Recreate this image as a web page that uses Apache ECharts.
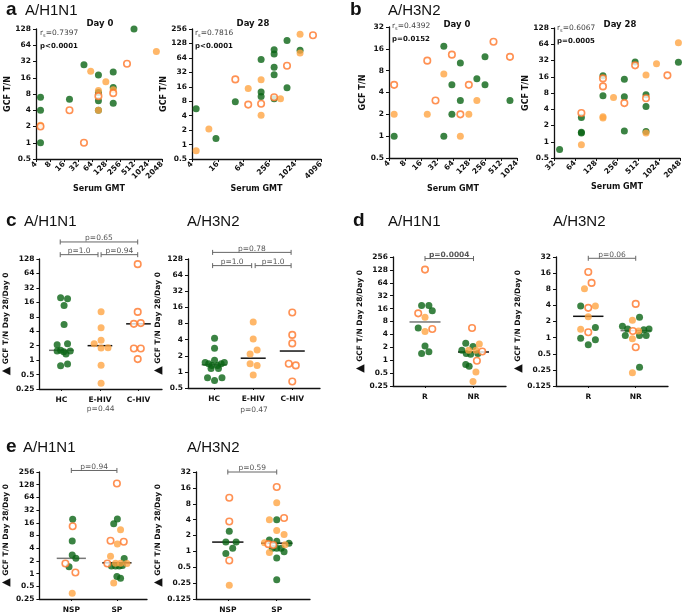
<!DOCTYPE html>
<html><head><meta charset="utf-8">
<script src="https://cdn.jsdelivr.net/npm/echarts@6/dist/echarts.min.js"></script>
<style>html,body{margin:0;padding:0;background:#fff}#c{width:685px;height:614px}</style>
</head><body><div id="c"></div><script>
// ---------- DATA ----------
// Panel a, A/H1N1, Day 0 (x = serum GMT, y = GCF T/N)
const a0GreenX=[512,5,5,5,21,43,88,88,88,88,183,183,183];
const a0GreenY=[128,7,4,1,6.4,28,18,8.5,6,4,20.5,10.5,5.4];
const a0OrangeX=[1550,60,127,5,88,183,88];
const a0OrangeY=[49,21,13.5,2.1,9.3,9.6,4];
const a0OpenX=[362,21,43,88,183,5];
const a0OpenY=[29,4,1,7.3,8.3,2];
// Panel a, Day 28
const a28GreenX=[5,14.5,41,164,164,164,330,330,330,330,330,660,660,1330];
const a28GreenY=[5.6,1.34,7.8,59,12.5,10,95,77,41,28.6,9,148,15.3,92];
const a28OrangeX=[5,9.9,82,164,164,465,1330,1330];
const a28OrangeY=[0.74,2.1,14.8,22.5,4.1,9,198,81];
const a28OpenX=[41,82,164,330,660,2660];
const a28OpenY=[22.8,6.8,7.1,9.7,44,189];
// Panel b, A/H3N2, Day 0
const b0GreenX=[5,43,43,61,61,88,88,180,256,256,755];
const b0GreenY=[1,17.3,1,5.1,2,10.2,3.1,6.2,5.1,12.4,3.1];
const b0OrangeX=[5,21,43,88,127,180];
const b0OrangeY=[2,2,7.2,1,2,3.1];
const b0OpenX=[5,21,30,61,88,127,370,755];
const b0OpenY=[5.1,11,3.1,13.3,2,5.1,20,12.4];
// Panel b, Day 28
const b28GreenX=[38.5,79,79,79,161,161,326,326,326,465,666,666,666,1940];
const b28GreenY=[0.72,2.8,1.5,1.45,16.7,7.1,14.4,6.8,1.58,30,7.4,4.5,1.55,29.6];
const b28OrangeX=[79,161,161,228,666,666,942,1940];
const b28OrangeY=[0.88,2.9,2.75,6.6,17.2,1.45,28,68];
const b28OpenX=[79,161,161,326,465,666,1350];
const b28OpenY=[3.4,14.9,10.6,5.2,26,6.4,17];
// Correlation statistics
const statsRs=['0.7397','0.7816','0.4392','0.6067'];
const statsP=['p<0.0001','p<0.0001','p=0.0152','p=0.0005'];

// Panel c: groups (position within group, fold change)
const cCats=['HC','E-HIV','C-HIV'];
const c1Green=[[0.98,20],[1.16,19],[1.07,13.8],[1.07,5.5],[0.89,2.1],[1.16,2.2],[0.98,1.6],[0.89,1.55],[1.06,1.5],[1.23,1.55],[1.12,1.34],[0.98,0.76],[1.16,0.83]];
const c1Orange=[[2.03,10.2],[2.03,4.7],[2.03,2.6],[1.85,2.2],[2.03,1.78],[2.21,1.8],[2.03,0.78],[2.03,0.33]];
const c1Open=[[2.98,100],[2.98,10.1],[2.88,5.7],[3.06,5.9],[2.88,1.75],[3.06,1.75],[2.98,1.05]];
const c1Medians=[1.6,2.0,5.7];
const c1Pairs=[[0.97,1.95],[2.03,2.98],[0.97,2.98]];
const c1PLabels=['p=1.0','p=0.94','p=0.65'];
const c1Overall='p=0.44';
const c2Green=[[1.01,4.25],[1.01,2.77],[1.01,1.64],[0.77,1.5],[0.86,1.42],[1.18,1.42],[1.26,1.5],[0.94,1.32],[1.09,1.32],[0.92,1.15],[1.11,1.15],[0.83,0.78],[1.01,0.69],[1.2,0.78]];
const c2Orange=[[2.0,8.5],[2.0,4.1],[2.1,2.55],[1.92,2.15],[1.92,1.42],[2.1,1.32],[2.0,0.87]];
const c2Open=[[3.0,12.8],[3.0,4.9],[3.0,3.4],[2.91,1.42],[3.09,1.32],[3.0,0.66]];
const c2Medians=[1.36,1.8,2.45];
const c2Pairs=[[0.96,1.96],[2.05,2.97],[0.96,2.97]];
const c2PLabels=['p=1.0','p=1.0','p=0.78'];
const c2Overall='p=0.47';

// Panel d: responders
const dCats=['R','NR'];
const d1Green=[[0.93,19],[1.08,19],[1.15,14.3],[0.86,5.66],[1.0,2.14],[1.08,1.58],[0.93,1.43],
  [1.84,2.5],[1.99,2.1],[1.76,1.7],[1.85,1.43],[1.94,1.38],[2.09,1.43],[1.84,0.79],[1.91,0.72]];
const d1Orange=[[1.0,10],[1.0,4.7],[2.12,2.4],[1.9,1.7],[2.05,1.7],[2.05,0.53],[1.99,0.32]];
const d1Open=[[1.0,130],[0.86,12.4],[1.15,5.35],[1.97,5.66],[2.18,1.6],[2.07,0.97]];
const d1Medians=[7.8,1.56];
const d1PLabel='p=0.0004';
const d2Green=[[0.84,3.9],[1.15,1.54],[0.84,0.97],[1.15,0.91],[1.0,0.74],
  [2.08,2.4],[1.72,1.63],[1.83,1.45],[2.17,1.4],[2.28,1.45],[1.78,1.1],[2.08,1.1],[2.22,1.1],[2.08,0.28]];
const d2Orange=[[0.92,8.2],[1.15,3.9],[1.0,2.46],[0.84,1.43],[1.93,2.1],[2.06,1.33],[1.93,0.95],[1.93,0.22]];
const d2Open=[[1.0,16.8],[1.07,10.5],[1.0,3.6],[1.0,1.26],[2.0,4.26],[1.94,1.33],[2.0,0.66]];
const d2Medians=[2.5,1.35];
const d2PLabel='p=0.06';

// Panel e: seroprotection
const eCats=['NSP','SP'];
const e1Green=[[1.03,19.4],[1.02,5.9],[1.02,2.75],[1.1,2.3],[0.95,1.45],
  [2.01,19.8],[1.93,15.1],[2.16,2.27],[1.88,1.51],[1.97,1.51],[2.05,1.51],[2.12,1.55],[2.0,0.85],[2.08,0.78]];
const e1Orange=[[1.02,0.34],[2.08,10.9],[2.01,5.0],[1.86,2.57],[1.97,1.76],[2.08,1.76],[2.22,1.73],[1.93,0.6]];
const e1Open=[[1.03,13.2],[0.87,1.73],[1.09,1.06],[2.0,137],[1.86,6.0],[2.15,5.7],[1.79,1.73]];
const e1Medians=[2.3,1.8];
const e1PLabel='p=0.94';
const e2Green=[[1.03,2.4],[0.96,1.5],[1.17,1.5],[1.1,1.15],[0.96,0.91],
  [2.0,4.0],[1.85,1.64],[2.0,1.55],[2.25,1.43],[1.91,1.15],[2.0,1.15],[2.09,1.15],[2.15,0.98],[2.0,0.75],[2.0,0.29]];
const e2Orange=[[1.03,0.227],[2.0,8.4],[1.85,4.0],[2.0,2.5],[2.15,2.09],[1.75,1.46],[2.17,1.33],[1.85,0.95]];
const e2Open=[[1.03,10.4],[1.03,3.68],[1.03,0.67],[2.0,16.6],[2.15,4.3],[1.83,1.37],[1.93,1.32]];
const e2Medians=[1.5,1.43];
const e2PLabel='p=0.59';

// ---------- STYLE ----------
const FONT='"Liberation Sans", Arial, sans-serif';
const DJ='"DejaVu Sans", sans-serif';
const GREEN='#0a6414', ORANGE='#ffa544', OPEN='#ff7628', INK='#111', GREYTXT='#555';
const pow2=v=>String(Math.pow(2,v));
const grid=[], xAxis=[], yAxis=[], series=[], graphic=[];
const lbl={fontFamily:DJ,fontWeight:'bold',fontSize:7.5,color:INK};
const axLine={show:true,onZero:false,lineStyle:{color:INK,width:1.3}};

function yCfg(gi,yr,name,gap,rich){
  const nts={fontFamily:DJ,fontWeight:'bold',fontSize:rich?7.5:8,color:INK};
  if(rich) nts.rich={t:{fontFamily:DJ,fontSize:11,color:INK}};
  return {type:'value',gridIndex:gi,min:yr[0],max:yr[1],interval:1,name:name,nameLocation:'middle',nameGap:gap,nameRotate:90,
    nameTextStyle:nts,
    axisLine:axLine,axisTick:{show:true,length:3,lineStyle:{color:INK,width:1}},
    axisLabel:Object.assign({formatter:pow2,margin:5},lbl),splitLine:{show:false}};
}
function points(gi,g,o,h){
  series.push({type:'scatter',xAxisIndex:gi,yAxisIndex:gi,data:g,symbolSize:7,itemStyle:{color:GREEN},z:3});
  series.push({type:'scatter',xAxisIndex:gi,yAxisIndex:gi,data:o,symbolSize:7,itemStyle:{color:ORANGE},z:3});
  series.push({type:'scatter',xAxisIndex:gi,yAxisIndex:gi,data:h,symbolSize:6.5,itemStyle:{color:'#fff',borderColor:OPEN,borderWidth:1.6},z:4});
}
const sc=(xs,ys)=>xs.map((x,i)=>[Math.log2(x),Math.log2(ys[i])]);
const dp=ps=>ps.map(p=>[p[0],Math.log2(p[1])]);

function scatterPanel(p){
  const gi=grid.length;
  grid.push({left:p.box[0],top:p.box[1],width:p.box[2],height:p.box[3]});
  xAxis.push({type:'value',gridIndex:gi,min:p.xr[0],max:p.xr[1],interval:p.xr[2],name:'Serum GMT',nameLocation:'middle',nameGap:p.xGap,
    nameTextStyle:{fontFamily:DJ,fontWeight:'bold',fontSize:8,color:INK},
    axisLine:axLine,axisTick:{show:true,length:3,lineStyle:{color:INK,width:1}},
    axisLabel:Object.assign({formatter:pow2,rotate:45,margin:4},lbl),splitLine:{show:false}});
  yAxis.push(yCfg(gi,p.yr,'GCF T/N',p.yGap,false));
  points(gi,sc(p.g[0],p.g[1]),sc(p.o[0],p.o[1]),sc(p.h[0],p.h[1]));
  graphic.push({type:'text',x:p.day[1],y:p.day[2],style:{text:p.day[0],align:'center',verticalAlign:'middle',font:'bold 8.5px '+DJ,fill:INK}});
  graphic.push({type:'text',x:p.box[0]+p.st[0],y:p.box[1]+p.st[1],style:{text:'{r|r}{s|s}{r|='+p.rs+'}',verticalAlign:'middle',
    rich:{r:{fontFamily:DJ,fontSize:7.5,fill:'#444',color:'#444'},s:{fontFamily:DJ,fontSize:5,color:'#444',fill:'#444',padding:[5,0,0,0]}}}});
  graphic.push({type:'text',x:p.box[0]+p.st[0],y:p.box[1]+p.st[1]+13,style:{text:p.pv,verticalAlign:'middle',font:'bold 7px '+DJ,fill:INK}});
}

function dotPanel(p){
  const gi=grid.length;
  grid.push({left:p.box[0],top:p.box[1],width:p.box[2],height:p.box[3]});
  const vals=p.cats.map((c,i)=>i+1);
  xAxis.push({type:'value',gridIndex:gi,min:p.xr[0],max:p.xr[1],name:p.overall||'',nameLocation:'middle',nameGap:p.xGap||15,
    nameTextStyle:{fontFamily:DJ,fontSize:7.5,color:GREYTXT},
    axisLine:axLine,axisTick:{show:true,length:2,customValues:vals,lineStyle:{color:INK,width:1}},
    axisLabel:Object.assign({customValues:vals,formatter:v=>p.cats[Math.round(v)-1],margin:7},lbl),splitLine:{show:false}});
  yAxis.push(yCfg(gi,p.yr,'{t|▲} GCF T/N Day 28/Day 0',p.yGap,true));
  const medCols=p.medCol;
  series.push({type:'custom',xAxisIndex:gi,yAxisIndex:gi,clip:false,silent:true,z:1,
    data:p.med.map((m,i)=>[i+1,Math.log2(m)]),
    renderItem:(params,api)=>{const x=api.value(0),y=api.value(1);const a=api.coord([x-0.32,y]),b=api.coord([x+0.32,y]);
      return {type:'line',shape:{x1:a[0],y1:a[1],x2:b[0],y2:b[1]},style:{stroke:medCols[params.dataIndex],lineWidth:1.5}};}});
  points(gi,dp(p.g),dp(p.o),dp(p.h));
  const labs=p.brLab;
  series.push({type:'custom',xAxisIndex:gi,yAxisIndex:gi,clip:false,silent:true,z:5,
    data:p.br.map((b,i)=>[b[0],b[1],p.brY[i]]),
    renderItem:(params,api)=>{const y=api.value(2);const a=api.coord([api.value(0),y]),b=api.coord([api.value(1),y]);
      const st={stroke:'#666',lineWidth:1};
      return {type:'group',children:[
        {type:'line',shape:{x1:a[0],y1:a[1],x2:b[0],y2:b[1]},style:st},
        {type:'line',shape:{x1:a[0],y1:a[1]-2.5,x2:a[0],y2:a[1]+2.5},style:st},
        {type:'line',shape:{x1:b[0],y1:b[1]-2.5,x2:b[0],y2:b[1]+2.5},style:st},
        {type:'text',x:(a[0]+b[0])/2,y:a[1]+0.5,style:{text:labs[params.dataIndex],align:'center',verticalAlign:'bottom',font:(p.brBold?'bold ':'')+'7.5px '+DJ,fill:GREYTXT}}]};}});
}

scatterPanel({box:[36,29,126,130],xr:[2,11,1],yr:[-1,7],xGap:26,yGap:20,g:[a0GreenX,a0GreenY],o:[a0OrangeX,a0OrangeY],h:[a0OpenX,a0OpenY],day:['Day 0',100,24],st:[4,4],rs:statsRs[0],pv:statsP[0]});
scatterPanel({box:[192,29,129,130],xr:[2,12,2],yr:[-1,8],xGap:26,yGap:18,g:[a28GreenX,a28GreenY],o:[a28OrangeX,a28OrangeY],h:[a28OpenX,a28OpenY],day:['Day 28',253,24],st:[3,4],rs:statsRs[1],pv:statsP[1]});
scatterPanel({box:[389,27,128,131],xr:[2,10,1],yr:[-1,5],xGap:27,yGap:16,g:[b0GreenX,b0GreenY],o:[b0OrangeX,b0OrangeY],h:[b0OpenX,b0OpenY],day:['Day 0',457,25],st:[3,-1],rs:statsRs[2],pv:statsP[2]});
scatterPanel({box:[554,28,128,130],xr:[5,11,1],yr:[-1,7],xGap:23,yGap:17,g:[b28GreenX,b28GreenY],o:[b28OrangeX,b28OrangeY],h:[b28OpenX,b28OpenY],day:['Day 28',620,25],st:[3,0],rs:statsRs[3],pv:statsP[3]});

dotPanel({box:[31,259,131,130],xr:[0.43,3.61],yr:[-2,7],yGap:13,xGap:15,cats:cCats,g:c1Green,o:c1Orange,h:c1Open,med:c1Medians,medCol:['#777',INK,INK],br:c1Pairs,brY:[7.3,7.3,8.18],brLab:c1PLabels,overall:c1Overall});
dotPanel({box:[188,259,132,129],xr:[0.33,3.71],yr:[-1,7],yGap:11,xGap:18,cats:cCats,g:c2Green,o:c2Orange,h:c2Open,med:c2Medians,medCol:['#777',INK,INK],br:c2Pairs,brY:[6.59,6.59,7.41],brLab:c2PLabels,overall:c2Overall});
dotPanel({box:[393,257,113,129],xr:[0.34,2.67],yr:[-2,8],yGap:25,cats:dCats,g:d1Green,o:d1Orange,h:d1Open,med:d1Medians,medCol:['#777',INK],br:[[1,2]],brY:[7.88],brLab:[d1PLabel],brBold:true});
dotPanel({box:[556,257,112,129],xr:[0.32,2.68],yr:[-3,5],yGap:22,cats:dCats,g:d2Green,o:d2Orange,h:d2Open,med:d2Medians,medCol:[INK,'#777'],br:[[1,2]],brY:[4.92],brLab:[d2PLabel]});
dotPanel({box:[31,472,116,130],xr:[0.3,2.66],yr:[-2,8],yGap:18,cats:eCats,g:e1Green,o:e1Orange,h:e1Open,med:e1Medians,medCol:['#777',INK],br:[[1,2]],brY:[8.12],brLab:[e1PLabel]});
dotPanel({box:[196,472,114,130],xr:[0.35,2.68],yr:[-3,5],yGap:19,cats:eCats,g:e2Green,o:e2Orange,h:e2Open,med:e2Medians,medCol:[INK,INK],br:[[1,2]],brY:[5.0],brLab:[e2PLabel]});

// panel headings
const heads=[['a',6,10,'A/H1N1',25],['b',350,10,'A/H3N2',388],['c',6,221,'A/H1N1',24],['d',353,221,'A/H1N1',388],['e',6,447,'A/H1N1',23]];
heads.forEach(h=>{
  graphic.push({type:'text',x:h[1],y:h[2],style:{text:h[0],verticalAlign:'middle',font:'bold 19px '+FONT,fill:INK}});
  graphic.push({type:'text',x:h[4],y:h[2]+1,style:{text:h[3],verticalAlign:'middle',font:'15px '+FONT,fill:INK}});
});
[['A/H3N2',187,222],['A/H3N2',553,222],['A/H3N2',187,448]].forEach(h=>{
  graphic.push({type:'text',x:h[1],y:h[2],style:{text:h[0],verticalAlign:'middle',font:'15px '+FONT,fill:INK}});
});

const chart=echarts.init(document.getElementById('c'),null,{renderer:'canvas'});
chart.setOption({animation:false,backgroundColor:'#fff',grid,xAxis,yAxis,series,graphic});
</script></body></html>
